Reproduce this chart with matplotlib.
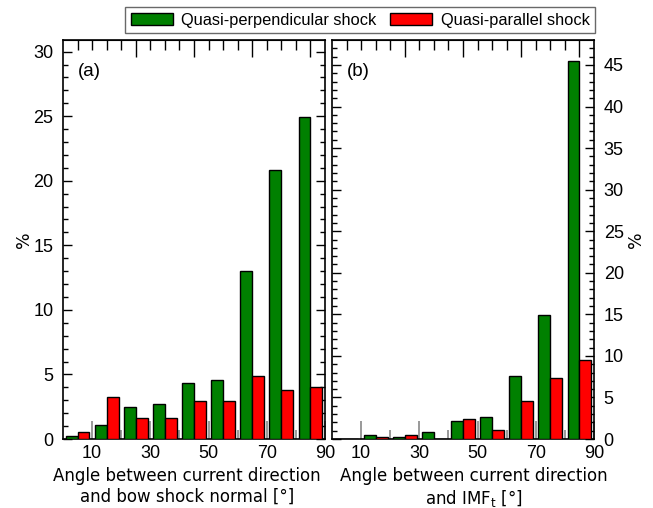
import numpy as np
import matplotlib
matplotlib.use("Agg")
import matplotlib.pyplot as plt
from matplotlib.patches import Patch

# bin centres of the angle histogram [deg]
bin_centres = np.array([5, 15, 25, 35, 45, 55, 65, 75, 85])

# (a) angle between current direction and bow shock normal
perp_a = [0.25, 1.05, 2.45, 2.72, 4.35, 4.6, 13.0, 20.87, 24.95]
par_a = [0.53, 3.26, 1.62, 1.62, 2.96, 2.96, 4.88, 3.8, 4.04]

# (b) angle between current direction and IMF_t
perp_b = [0.05, 0.52, 0.24, 0.8, 2.16, 2.7, 7.6, 14.92, 45.5]
par_b = [0.0, 0.24, 0.52, 0.0, 2.4, 1.08, 4.6, 7.32, 9.52]

xlabels = ["Angle between current direction\nand bow shock normal [\u00b0]",
           "Angle between current direction\nand IMF$_\\mathrm{t}$ [\u00b0]"]
xlabel_pos = [0.473, 0.54]
panel_tags = ["(a)", "(b)"]
ylims = [30.9, 48.0]

green = "#008000"
red = "#ff0000"
bar_w = 4.1

plt.rcParams['font.family'] = ['Liberation Sans', 'DejaVu Sans']

fig = plt.figure(figsize=(6.53, 5.08), dpi=100)
ax_a = fig.add_axes([63 / 653, 69 / 508, 262 / 653, 399 / 508])
ax_b = fig.add_axes([332 / 653, 69 / 508, 262 / 653, 399 / 508])

for i, (ax, perp, par) in enumerate([(ax_a, perp_a, par_a), (ax_b, perp_b, par_b)]):
    ax.bar(bin_centres - bar_w / 2, perp, width=bar_w, color=green,
           edgecolor="black", linewidth=1.0, zorder=3)
    ax.bar(bin_centres + bar_w / 2, par, width=bar_w, color=red,
           edgecolor="black", linewidth=1.0, zorder=3)
    ax.set_xlim(0, 90)
    ax.set_ylim(0, ylims[i])

    # bottom axis: grey inward ticks
    ax.set_xticks([10, 30, 50, 70, 90])
    ax.set_xticks([20, 40, 60, 80], minor=True)
    ax.tick_params(axis='x', which='major', direction='in', length=13,
                   color='#888888', width=1.2, labelsize=13, pad=4)
    ax.tick_params(axis='x', which='minor', direction='in', length=6.5,
                   color='#888888', width=1.2)

    # y axis: ticks on both sides
    ax.set_yticks(np.arange(0, ylims[i], 5))
    ax.set_yticks(np.arange(0, ylims[i], 1), minor=True)
    ax.tick_params(axis='y', which='both', direction='in', left=True, right=True,
                   labelsize=13, pad=7)
    ax.tick_params(axis='y', which='major', length=6.5, width=1)
    ax.tick_params(axis='y', which='minor', length=3.6, width=1)

    # top axis ticks
    top = ax.secondary_xaxis('top')
    top.set_xticks([25, 45, 65, 85])
    top.set_xticks(np.arange(5, 90, 5), minor=True)
    top.set_xticklabels([])
    top.tick_params(axis='x', which='major', direction='in', length=12.5, width=1)
    top.tick_params(axis='x', which='minor', direction='in', length=7, width=1)

    for sp in ax.spines.values():
        sp.set_linewidth(1.2)

    ax.set_xlabel(xlabels[i], family='DejaVu Sans', fontsize=12, labelpad=4,
                  linespacing=1.2)
    ax.xaxis.label.set_x(xlabel_pos[i])
    ax.text(0.057, 0.92, panel_tags[i], transform=ax.transAxes, fontsize=13.5,
            va='center', ha='left')

ax_a.set_ylabel("%", family='DejaVu Sans', fontsize=12.5, labelpad=0)
ax_b.yaxis.tick_right()
ax_b.tick_params(axis='y', which='both', left=True, right=True,
                 labelleft=False, labelright=True)
ax_b.yaxis.set_label_position('right')
ax_b.set_ylabel("%", family='DejaVu Sans', fontsize=12.5, labelpad=2)

handles = [Patch(facecolor=green, edgecolor='black', linewidth=1.0),
           Patch(facecolor=red, edgecolor='black', linewidth=1.0)]
leg = fig.legend(handles, ["Quasi-perpendicular shock", "Quasi-parallel shock"],
                 loc='center', bbox_to_anchor=(360 / 653, 1 - 20 / 508), ncol=2,
                 fontsize=11.8, frameon=True, fancybox=False, edgecolor='#444444',
                 handlelength=2.6, handleheight=0.8, handletextpad=0.5,
                 columnspacing=0.8, borderpad=0.32, borderaxespad=0)
leg.get_frame().set_linewidth(1.0)

fig.savefig("out.png", dpi=100)
